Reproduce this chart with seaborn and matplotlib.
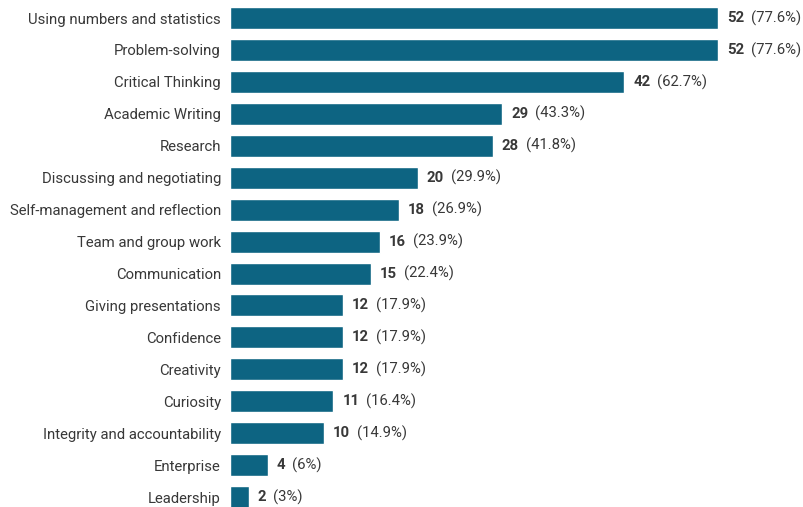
import matplotlib
matplotlib.use("Agg")
import matplotlib.pyplot as plt
import seaborn as sns
import pandas as pd

skills = [
    "Using numbers and statistics", "Problem-solving", "Critical Thinking",
    "Academic Writing", "Research", "Discussing and negotiating",
    "Self-management and reflection", "Team and group work", "Communication",
    "Giving presentations", "Confidence", "Creativity", "Curiosity",
    "Integrity and accountability", "Enterprise", "Leadership",
]
counts = [52, 52, 42, 29, 28, 20, 18, 16, 15, 12, 12, 12, 11, 10, 4, 2]
percents = ["77.6%", "77.6%", "62.7%", "43.3%", "41.8%", "29.9%", "26.9%",
            "23.9%", "22.4%", "17.9%", "17.9%", "17.9%", "16.4%", "14.9%",
            "6%", "3%"]

df = pd.DataFrame({"skill": skills, "count": counts})

sns.set_theme(style="white")
plt.rcParams["font.family"] = ["Roboto", "DejaVu Sans"]

DPI = 100
FS = 10.7
fig = plt.figure(figsize=(8.04, 5.07), dpi=DPI)
ax = fig.add_axes([230 / 804, 0, 574 / 804, 1])

bar_color = "#0d6482"
text_color = "#383838"

sns.barplot(data=df, x="count", y="skill", color=bar_color, width=0.69,
            saturation=1, ax=ax, orient="h")

ax.set_xlim(0, 61.16)
ax.set_ylim(15.31, -0.564)
ax.set_xlabel("")
ax.set_ylabel("")
ax.set_xticks([])
sns.despine(ax=ax, left=True, bottom=True)
ax.tick_params(axis="y", length=0, pad=6.5, labelsize=FS, labelcolor=text_color)

# Value labels: bold count followed by the share in brackets
fig.canvas.draw()
renderer = fig.canvas.get_renderer()
for i, (c, p) in enumerate(zip(counts, percents)):
    t1 = ax.annotate(str(c), xy=(c, i), xytext=(6.5, 0), textcoords="offset points",
                     ha="left", va="center", fontsize=FS, fontweight="bold",
                     color=text_color)
    w = t1.get_window_extent(renderer).width * 72 / DPI
    ax.annotate(f"({p})", xy=(c, i), xytext=(6.5 + w + 5, 0), textcoords="offset points",
                ha="left", va="center", fontsize=FS, color=text_color)

fig.savefig("out.png", dpi=DPI)
